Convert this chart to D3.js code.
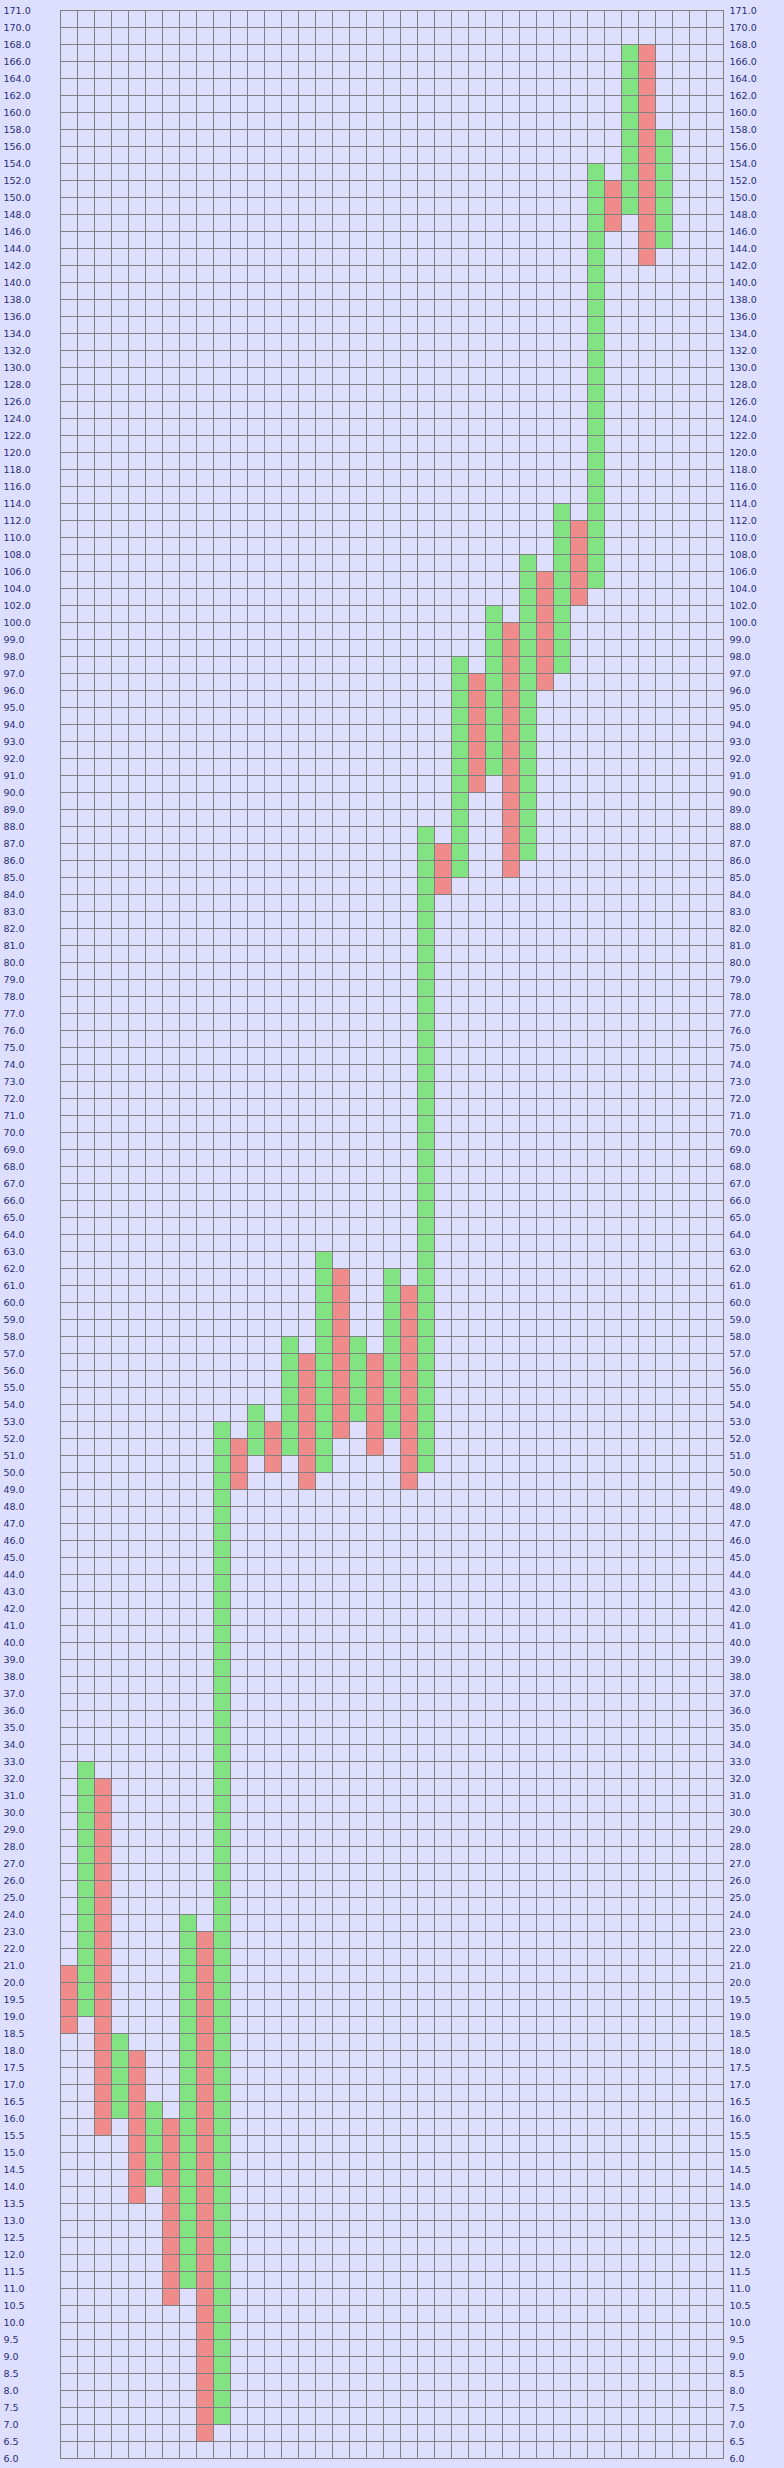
<!DOCTYPE html>
<html>
<head>
<meta charset="utf-8">
<script src="https://cdn.jsdelivr.net/npm/d3@7"></script>
<style>
  html, body { margin: 0; padding: 0; background: #dedeff; }
  svg { display: block; }
</style>
</head>
<body>
<svg id="chart" width="784" height="2468"></svg>
<script>
// Price levels (tick labels), bottom to top
const levels = [
  6.0, 6.5, 7.0, 7.5, 8.0, 8.5, 9.0, 9.5, 10.0, 10.5, 11.0, 11.5, 12.0, 12.5, 13.0, 13.5,
  14.0, 14.5, 15.0, 15.5, 16.0, 16.5, 17.0, 17.5, 18.0, 18.5, 19.0, 19.5, 20.0,
  21, 22, 23, 24, 25, 26, 27, 28, 29, 30, 31, 32, 33, 34, 35, 36, 37, 38, 39, 40,
  41, 42, 43, 44, 45, 46, 47, 48, 49, 50, 51, 52, 53, 54, 55, 56, 57, 58, 59, 60,
  61, 62, 63, 64, 65, 66, 67, 68, 69, 70, 71, 72, 73, 74, 75, 76, 77, 78, 79, 80,
  81, 82, 83, 84, 85, 86, 87, 88, 89, 90, 91, 92, 93, 94, 95, 96, 97, 98, 99, 100,
  102, 104, 106, 108, 110, 112, 114, 116, 118, 120, 122, 124, 126, 128, 130, 132,
  134, 136, 138, 140, 142, 144, 146, 148, 150, 152, 154, 156, 158, 160, 162, 164,
  166, 168, 170, 171
];

// Point & figure columns: direction ("X" rising / "O" falling), low, high
const colTypes = ["O","X","O","X","O","X","O","X","O","X","O","X","O","X","O","X","O","X",
                  "O","X","O","X","O","X","O","X","O","X","O","X","O","X","O","X","O","X"];
const colLow  = [18.5, 19, 15.5, 16, 13.5, 14, 10.5, 11, 6.5, 7, 49, 51, 50, 51, 49, 50, 52, 53,
                 51, 52, 49, 50, 84, 85, 90, 91, 85, 86, 96, 97, 102, 104, 146, 148, 142, 144];
const colHigh = [21, 33, 32, 18.5, 18, 16.5, 16, 24, 23, 53, 52, 54, 53, 58, 57, 63, 62, 58,
                 57, 62, 61, 88, 87, 98, 97, 102, 100, 108, 106, 114, 112, 154, 152, 168, 168, 158];
const nColumns = 39;

const svg = d3.select("#chart");
const plotLeft = 60, plotRight = 723, plotTop = 10, plotBottom = 2458;

const x = d3.scaleBand().domain(d3.range(nColumns)).range([plotLeft, plotRight]).padding(0);
const y = d3.scalePoint().domain(levels).range([plotBottom, plotTop]);

svg.append("rect").attr("x", 0).attr("y", 0).attr("width", 784).attr("height", 2468)
  .attr("fill", "#dedeff");

// Build cells
const cells = [];
colTypes.forEach((t, ci) => {
  for (let i = 0; i < levels.length - 1; i++) {
    if (levels[i] >= colLow[ci] && levels[i + 1] <= colHigh[ci]) {
      cells.push({ col: ci, lo: levels[i], hi: levels[i + 1], type: t });
    }
  }
});

svg.append("g").selectAll("rect").data(cells).join("rect")
  .attr("x", d => x(d.col))
  .attr("y", d => y(d.hi))
  .attr("width", x.bandwidth())
  .attr("height", d => y(d.lo) - y(d.hi))
  .attr("fill", d => d.type === "X" ? "#82e382" : "#f08b8b");

// Grid
const grid = svg.append("g").attr("stroke", "#808080").attr("stroke-width", 1).attr("shape-rendering", "crispEdges");
grid.selectAll("line.h").data(levels).join("line").attr("class", "h")
  .attr("x1", plotLeft).attr("x2", plotRight + 1)
  .attr("y1", d => Math.round(y(d)) + 0.5).attr("y2", d => Math.round(y(d)) + 0.5);
const xs = d3.range(nColumns).map(i => x(i)).concat([plotRight]);
grid.selectAll("line.v").data(xs).join("line").attr("class", "v")
  .attr("y1", plotTop).attr("y2", plotBottom + 1)
  .attr("x1", d => Math.round(d) + 0.5).attr("x2", d => Math.round(d) + 0.5);

// Axis labels
const fmt = d3.format(".1f");
const lab = svg.append("g").attr("font-family", "DejaVu Sans, Verdana, sans-serif")
  .attr("font-size", "9.5px").attr("fill", "#1f2f78");
lab.selectAll("text.l").data(levels).join("text").attr("class", "l")
  .attr("x", 3.5).attr("y", d => y(d) + 4).text(d => fmt(d));
lab.selectAll("text.r").data(levels).join("text").attr("class", "r")
  .attr("x", 729.5).attr("y", d => y(d) + 4).text(d => fmt(d));
</script>
</body>
</html>
